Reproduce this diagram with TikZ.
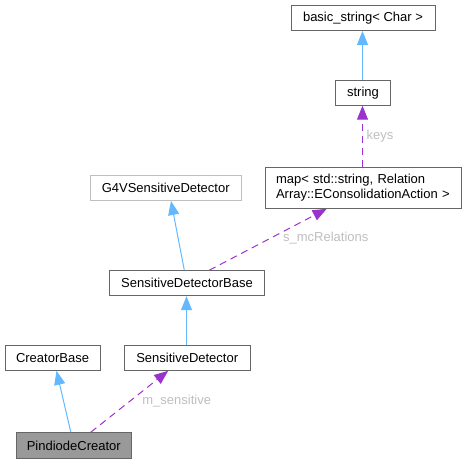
\documentclass[tikz,border=0pt]{standalone}
\usepackage{fontspec}
\setmainfont{Liberation Sans}
\usetikzlibrary{arrows.meta}
\definecolor{boxgray}{HTML}{666666}
\definecolor{lightgray}{HTML}{BFBFBF}
\definecolor{fillgray}{HTML}{999999}
\definecolor{inhblue}{HTML}{63B8FF}
\definecolor{usepurple}{HTML}{9A32CD}
\definecolor{labelgray}{HTML}{BEBEBE}

\begin{document}
\begin{tikzpicture}[x=1pt, y=-1pt,
            every node/.style = {font=\fontsize{13}{15}\selectfont},
            cls/.style = {draw=boxgray, line width=1pt, minimum height=25pt, inner sep=0pt},
            extcls/.style = {cls, draw=lightgray},
            inherit/.style = {draw=inhblue, line width=1pt, -{Triangle[length=14pt,width=11pt]}},
            uses/.style = {draw=usepurple, line width=1pt, dash pattern=on 7pt off 5pt,
                           -{Triangle[length=14pt,width=11pt]}},
            lbl/.style = {text=labelgray, inner sep=0pt}
            ]
            \useasboundingbox (0,0) rectangle (467,464);
            % classes
            \node[cls, minimum width=144pt] (basicstring) at (363,18) {basic\_string< Char >};
            \node[cls, minimum width=55pt] (string) at (363,92.7) {string};
            \node[cls, minimum width=196pt, minimum height=40.6pt, align=left,
                  text width=174pt] (map) at (363,188)
                  {map< std::string, Relation\\Array::EConsolidationAction >};
            \node[extcls, minimum width=151pt] (g4v) at (165.7,188) {G4VSensitiveDetector};
            \node[cls, minimum width=154.6pt] (sdbase) at (187,283.2) {SensitiveDetectorBase};
            \node[cls, minimum width=95pt] (creatorbase) at (52.5,357.8) {CreatorBase};
            \node[cls, minimum width=125.7pt] (sd) at (187.2,357.8) {SensitiveDetector};
            \node[cls, fill=fillgray, minimum width=115pt, minimum height=26pt] (pindiode) at (73.8,445.7) {PindiodeCreator};
            % inheritance
            \draw[inherit] ([xshift=-3pt]pindiode.north) -- ([xshift=4pt]creatorbase.south);
            \draw[inherit] ([xshift=-0.7pt]sd.north) -- ([xshift=-0.5pt]sdbase.south);
            \draw[inherit] ([xshift=-2.7pt]sdbase.north) -- ([xshift=5.3pt]g4v.south);
            \draw[inherit] ([xshift=-0.5pt]string.north) -- ([xshift=-0.5pt]basicstring.south);
            % usage
            \draw[uses] ([xshift=17pt]pindiode.north) -- ([xshift=-19pt]sd.south);
            \draw[uses] ([xshift=22.3pt]sdbase.north) -- ([xshift=-36.3pt]map.south);
            \draw[uses] ([xshift=-0.5pt]map.north) -- ([xshift=-0.5pt]string.south);
            % labels
            \node[lbl] (msens) at (176.7,400.7) {m\_sensitive};
            \node[lbl] (smc) at (325.8,238.3) {s\_mcRelations};
            \node[lbl] (keys) at (380,135.7) {keys};
\end{tikzpicture}
\end{document}
